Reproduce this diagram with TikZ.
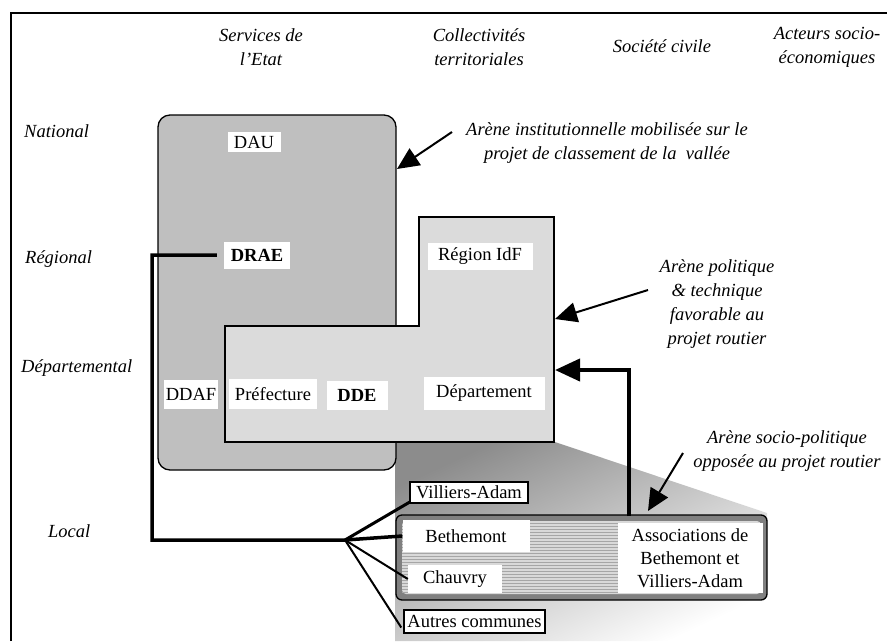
\documentclass[tikz,border=0pt]{standalone}
\usepackage{fontspec}
\setmainfont{Liberation Serif}
\usetikzlibrary{arrows.meta,patterns}
\begin{document}
\begin{tikzpicture}[x=1pt,y=-1pt,
  every node/.style={font=\fontsize{18.5}{23}\selectfont, inner sep=0pt},
  lab/.style={font=\fontsize{18.5}{24}\selectfont\itshape, align=center},
  wbox/.style={fill=white, align=center},
  bbox/.style={fill=white, draw=black, line width=1.5pt},
  link/.style={line width=3.5pt},
  thin link/.style={line width=2pt},
  pointer/.style={line width=2pt, -{Triangle[length=22pt,width=20pt]}},
  big pointer/.style={line width=4pt, -{Triangle[length=25pt,width=22pt]}}]
\useasboundingbox (0,0) rectangle (887,641);
% frame
\draw[line width=2pt] (11,641) -- (11,13) -- (887,13);
% headers
\node[lab] (h1) at (261,47) {Services de\\l'Etat};
\node[lab] (h2) at (479,47) {Collectivités\\territoriales};
\node[lab] (h3) at (662,46) {Société civile};
\node[lab] (h4) at (827,47) {Acteurs socio-\\économiques};
% row labels
\node[lab, anchor=west] (r1) at (24,131) {National};
\node[lab, anchor=west] (r2) at (25,259) {Régional};
\node[lab, anchor=west] (r3) at (21,368) {Départemental};
\node[lab, anchor=west] (r4) at (48,531) {Local};
% shadow of the local arena
\shade[top color=gray!90, bottom color=white, shading angle=25]
  (395,442) -- (555,442) -- (767,513) -- (767,641) -- (395,641) -- cycle;
% institutional arena
\draw[fill=black!25, line width=1.3pt, rounded corners=12pt] (158,115) rectangle (396,470);
% political arena (L shape)
\draw[fill=black!14, line width=1.3pt] (225,326) -- (419,326) -- (419,217) -- (554,217) -- (554,442) -- (225,442) -- cycle;
% local arena
\fill[black!50, rounded corners=6pt] (396,515) rectangle (767,600);
\fill[black!15, rounded corners=4pt] (402,521) rectangle (761,594);
\fill[pattern=horizontal lines, pattern color=black!35] (402,521) rectangle (761,594);
\draw[line width=1.3pt, rounded corners=6pt] (396,515) rectangle (767,600);
% boxes
\node[wbox, minimum width=53pt, minimum height=20pt] (DAU) at (254,142) {DAU};
\node[wbox, minimum width=66pt, minimum height=27pt] (DRAE) at (257,255) {\bfseries DRAE};
\node[wbox, minimum width=54pt, minimum height=29pt] (DDAF) at (191,394) {DDAF};
\node[wbox, minimum width=88pt, minimum height=30pt] (PREF) at (273,394) {Préfecture};
\node[wbox, minimum width=61pt, minimum height=29pt] (DDE) at (357,395) {\bfseries DDE};
\node[wbox, minimum width=105pt, minimum height=27pt] (REG) at (480,256) {Région IdF};
\node[wbox, minimum width=121pt, minimum height=33pt] (DEP) at (484,393) {Département};
\node[wbox, minimum width=127pt, minimum height=32pt] (BETH) at (466,536) {Bethemont};
\node[wbox, minimum width=94pt, minimum height=28pt] (CHAU) at (455,579) {Chauvry};
\node[wbox, minimum width=145pt, minimum height=70pt] (ASSO) at (690,558) {Associations de\\Bethemont et\\Villiers-Adam};
\node[bbox, minimum width=118pt, minimum height=21pt] (VILL) at (469,492.5) {Villiers-Adam};
\node[bbox, minimum width=141pt, minimum height=23pt] (AUTR) at (474.5,621.5) {Autres communes};
% annotations
\node[lab] (a1) at (607,143) {Arène institutionnelle mobilisée sur le\\projet de classement de la \ vallée};
\node[lab] (a2) at (717,304) {Arène politique\\\& technique\\favorable au\\projet routier};
\node[lab] (a3) at (787,451) {Arène socio-politique\\opposée au projet routier};
% connector coordinates
\coordinate (c1) at (152,255);
\coordinate (c2) at (152,540);
\coordinate (hub) at (345,540);
\coordinate (p1s) at (452,132);
\coordinate (p1e) at (397,169);
\coordinate (p2s) at (648,290);
\coordinate (p2e) at (555,319);
\coordinate (p3s) at (683,453);
\coordinate (p3e) at (648,511);
\coordinate (asTop) at (629,516);
\coordinate (depR) at (555,370);
% connectors
\draw[link] ([xshift=-7pt]DRAE.west) -- (c1) -- (c2) -- (hub) -- (BETH.west);
\draw[line width=3pt] (hub) -- ([xshift=1pt,yshift=2pt]VILL.south west);
\draw[thin link] (hub) -- (CHAU.west);
\draw[thin link] (hub) -- ([xshift=-2pt,yshift=-6pt]AUTR.west);
\draw[big pointer] (asTop) |- (depR);
\draw[pointer] (p1s) -- (p1e);
\draw[pointer] (p2s) -- (p2e);
\draw[pointer] (p3s) -- (p3e);
\end{tikzpicture}
\end{document}
